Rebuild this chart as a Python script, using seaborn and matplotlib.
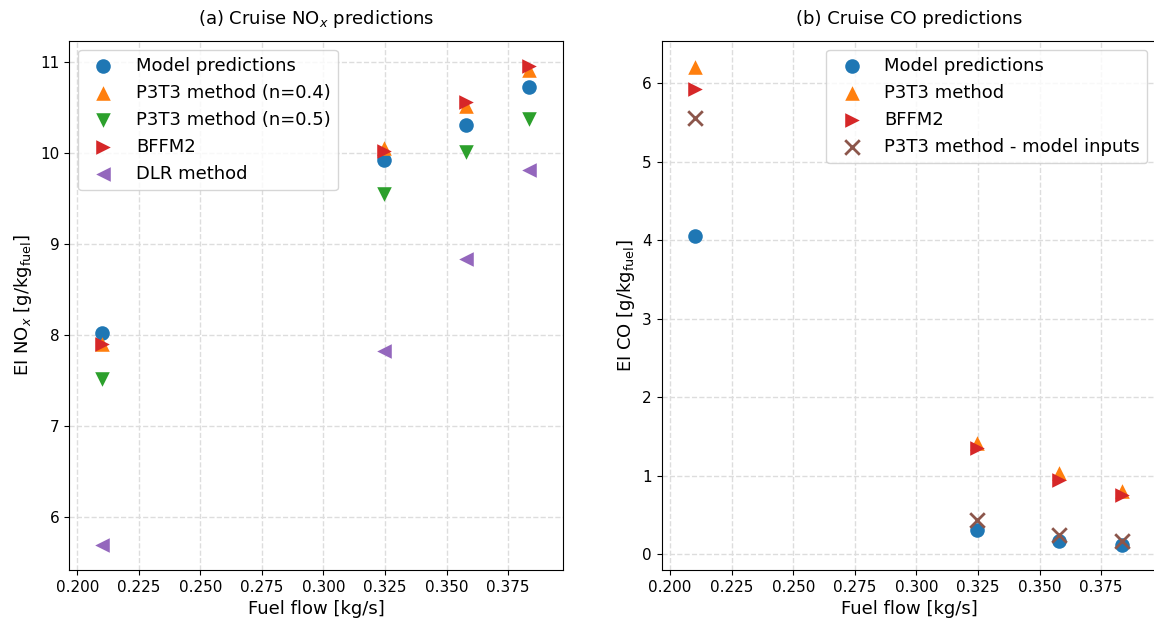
import matplotlib
matplotlib.use("Agg")
import matplotlib.pyplot as plt
import seaborn as sns
import pandas as pd

sns.set_style("ticks")
plt.rcParams["font.family"] = ["DejaVu Sans"]
plt.rcParams["mathtext.fontset"] = "dejavusans"
plt.rcParams.update({
    "text.color": "black",
    "axes.labelcolor": "black",
    "xtick.color": "black",
    "ytick.color": "black",
    "axes.edgecolor": "black",
})

# Fuel flow at the four cruise points [kg/s]
fuel_flow = [0.210, 0.3245, 0.358, 0.3835]

# Cruise NOx emission index [g/kg fuel]
nox_model = [8.02, 9.92, 10.31, 10.73]
nox_p3t3_n04 = [7.90, 10.05, 10.52, 10.91]
nox_p3t3_n05 = [7.52, 9.55, 10.01, 10.37]
nox_bffm2 = [7.90, 10.02, 10.56, 10.96]
nox_dlr = [5.69, 7.82, 8.84, 9.81]

# Cruise CO emission index [g/kg fuel]
co_model = [4.05, 0.31, 0.17, 0.12]
co_p3t3 = [6.21, 1.42, 1.04, 0.80]
co_bffm2 = [5.92, 1.35, 0.95, 0.75]
co_p3t3_inputs = [5.56, 0.44, 0.25, 0.17]

pal = sns.color_palette("tab10")
SIZE = 110

fig = plt.figure(figsize=(11.54, 6.27), dpi=100)
ax1 = fig.add_axes([69 / 1154, 57 / 627, 494 / 1154, 529.3 / 627])
ax2 = fig.add_axes([661.7 / 1154, 57 / 627, 494.5 / 1154, 529.3 / 627])


def draw(ax, y, label, color, marker, lw=0):
    df = pd.DataFrame({"x": fuel_flow, "y": y})
    sns.scatterplot(data=df, x="x", y="y", ax=ax, color=color, marker=marker,
                    s=SIZE, linewidth=lw, label=label)


draw(ax1, nox_model, "Model predictions", pal[0], "o")
draw(ax1, nox_p3t3_n04, "P3T3 method (n=0.4)", pal[1], "^")
draw(ax1, nox_p3t3_n05, "P3T3 method (n=0.5)", pal[2], "v")
draw(ax1, nox_bffm2, "BFFM2", pal[3], ">")
draw(ax1, nox_dlr, "DLR method", pal[4], "<")

draw(ax2, co_model, "Model predictions", pal[0], "o")
draw(ax2, co_p3t3, "P3T3 method", pal[1], "^")
draw(ax2, co_bffm2, "BFFM2", pal[3], ">")
draw(ax2, co_p3t3_inputs, "P3T3 method - model inputs", pal[5], "x", lw=2)

for ax in (ax1, ax2):
    ax.set_xlim(0.19664, 0.3973)
    ax.set_xticks([0.200, 0.225, 0.250, 0.275, 0.300, 0.325, 0.350, 0.375])
    ax.set_xlabel("Fuel flow [kg/s]", fontsize=13)
    ax.grid(True, linestyle="--", color="#dddddd", linewidth=1)
    ax.set_axisbelow(True)
    ax.tick_params(labelsize=11)
    for sp in ax.spines.values():
        sp.set_visible(True)
        sp.set_color("black")
    ax.legend(loc="upper right" if ax is ax2 else "upper left", fontsize=13)

ax1.set_ylim(5.418, 11.234)
ax1.set_yticks([6, 7, 8, 9, 10, 11])
ax1.set_ylabel(r"EI NO$_x$ [g/kg$_{\mathrm{fuel}}$]", fontsize=13)
ax1.set_title(r"(a) Cruise NO$_x$ predictions", fontsize=13, pad=12)

ax2.set_ylim(-0.2, 6.54)
ax2.set_yticks([0, 1, 2, 3, 4, 5, 6])
ax2.set_ylabel(r"EI CO [g/kg$_{\mathrm{fuel}}$]", fontsize=13)
ax2.set_title("(b) Cruise CO predictions", fontsize=13, pad=12)

fig.savefig("out.png", dpi=100)
